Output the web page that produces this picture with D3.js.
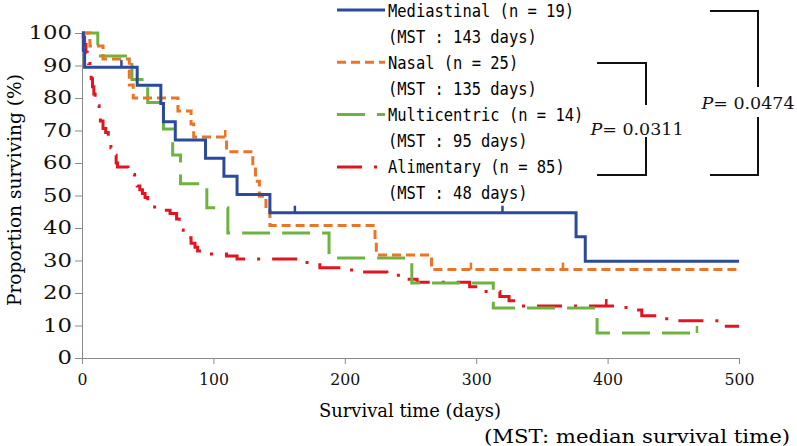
<!DOCTYPE html>
<html>
<head>
<meta charset="utf-8">
<script src="https://cdn.jsdelivr.net/npm/d3@7"></script>
<style>
  body { margin: 0; background: #fff; }
  svg { display: block; }
</style>
</head>
<body>
<div id="chart"></div>
<script>
// tick labels
var xTicks = [0, 100, 200, 300, 400, 500];
var yTicks = [0, 10, 20, 30, 40, 50, 60, 70, 80, 90, 100];

// categories
var groups = ["Mediastinal", "Nasal", "Multicentric", "Alimentary"];
var groupN = [19, 25, 14, 85];
var groupMST = [143, 135, 95, 48];

// series values (day, % surviving)
var mediastinalDays = [0, 1, 2, 42, 60, 62, 71, 94, 108, 118, 143, 376, 383, 500];
var mediastinalSurv = [100, 94.7, 89.5, 83.9, 78.3, 72.7, 67.1, 61.5, 55.9, 50.3, 44.7, 37.3, 29.8, 29.8];
var mediastinalCensor = [30, 162, 320];

var nasalDays = [0, 6, 16, 36, 39, 73, 83, 85, 110, 130, 132, 135, 140, 143, 223, 224, 266, 500];
var nasalSurv = [100, 96, 92, 84, 80, 76, 72, 68, 63.5, 58.9, 54.4, 49.8, 45.3, 40.8, 36.2, 31.7, 27.2, 27.2];
var nasalCensor = [109, 296, 366];

var multicentricDays = [0, 12, 38, 50, 62, 69, 75, 95, 111, 188, 251, 313, 392, 468];
var multicentricSurv = [100, 92.9, 85.7, 78.6, 70.5, 62.5, 53.6, 46.2, 38.5, 30.8, 23.1, 15.4, 7.7, 7.7];
var multicentricCensor = [468];

var alimentaryDays = [0, 1, 2, 3, 4, 5, 6, 7, 8, 9, 10, 11, 13, 14, 16, 18, 20, 22, 24, 26, 27, 35, 37, 40, 42, 44, 46, 48, 50, 52,
  63, 67, 72, 74, 75, 77, 80, 83, 86, 88, 95, 110, 118, 165, 181, 199, 207, 232, 242, 255, 295, 305, 318, 325, 336, 414, 426, 445, 487, 500];
var alimentarySurv = [100, 98.8, 96.5, 94.1, 92.9, 90.6, 88.2, 85.9, 83.5, 81.2, 78.8, 77.6, 75.3, 72.9, 70.6, 69.4, 67.1, 64.7, 62.4, 60.0, 58.8, 57.6, 56.5, 54.1, 52.9, 51.8, 50.6, 49.4, 48.2, 46.5,
  45.5, 44.5, 42.8, 41.2, 39.4, 38.2, 37.0, 35.3, 34.1, 32.9, 32.0, 31.4, 30.5, 29.4, 27.8, 27.1, 26.5, 25.5, 24.2, 23.3, 21.9, 20.5, 18.9, 17.6, 16.0, 14.8, 13.0, 11.5, 9.8, 9.8];
var alimentaryCensor = [399];

var pLabels = ["0.0311", "0.0474"];

var seriesDays = [mediastinalDays, nasalDays, multicentricDays, alimentaryDays];
var seriesSurv = [mediastinalSurv, nasalSurv, multicentricSurv, alimentarySurv];
var seriesCensor = [mediastinalCensor, nasalCensor, multicentricCensor, alimentaryCensor];

var colours = ["#2c4a9c", "#ec7427", "#6db33f", "#e3141f"];
var dashes = [null, "9,5", "28,12", "25,12,3,12"];

var width = 797, height = 446;
var svg = d3.select("#chart").append("svg")
    .attr("width", width)
    .attr("height", height);

//Scales
var x = d3.scaleLinear().domain([0, 500]).range([82, 739]);
var y = d3.scaleLinear().domain([0, 100]).range([358, 33]);

var serif = "'DejaVu Serif', serif";

//Create the y axis
var yAxis = svg.append("g")
    .attr("transform", "translate(" + x(0) + ",0)")
    .call(d3.axisLeft(y).tickValues(yTicks).tickSize(7).tickSizeOuter(0).tickPadding(3));
yAxis.selectAll("path, line").attr("stroke", "#8a8a8a");
yAxis.selectAll("text")
    .style("font-family", serif)
    .style("font-size", "18px")
    .attr("fill", "#111")
    .attr("textLength", function(d) { return String(d).length * 14.5; })
    .attr("lengthAdjust", "spacingAndGlyphs");

//Create the x axis
var xAxis = svg.append("g")
    .attr("transform", "translate(0," + y(0) + ")")
    .call(d3.axisBottom(x).tickValues(xTicks).tickSize(6).tickSizeOuter(0).tickPadding(9));
xAxis.selectAll("path, line").attr("stroke", "#8a8a8a");
xAxis.selectAll("text")
    .style("font-family", serif)
    .style("font-size", "17px")
    .attr("fill", "#111")
    .attr("textLength", function(d) { return String(d).length * 10; })
    .attr("lengthAdjust", "spacingAndGlyphs");

//Axis titles
svg.append("text")
    .attr("transform", "translate(14," + 190 + ") rotate(-90)")
    .attr("text-anchor", "middle")
    .attr("dominant-baseline", "central")
    .style("font-family", serif)
    .style("font-size", "19px")
    .attr("textLength", 232)
    .attr("lengthAdjust", "spacingAndGlyphs")
    .text("Proportion surviving (%)");

svg.append("text")
    .attr("x", 410)
    .attr("y", 410)
    .attr("text-anchor", "middle")
    .attr("dominant-baseline", "central")
    .style("font-family", serif)
    .style("font-size", "19px")
    .attr("textLength", 182)
    .attr("lengthAdjust", "spacingAndGlyphs")
    .text("Survival time (days)");

svg.append("text")
    .attr("x", 790)
    .attr("y", 436)
    .attr("text-anchor", "end")
    .attr("dominant-baseline", "central")
    .style("font-family", serif)
    .style("font-size", "19px")
    .attr("textLength", 306)
    .attr("lengthAdjust", "spacingAndGlyphs")
    .text("(MST: median survival time)");

//Survival curves
var line = d3.line()
    .x(function(d) { return x(d[0]); })
    .y(function(d) { return y(d[1]); })
    .curve(d3.curveStepAfter);

function survAt(days, surv, t) {
    var i = d3.bisectRight(days, t) - 1;
    return surv[Math.max(0, i)];
}

// draw back to front: alimentary first so mediastinal sits on top
[3, 2, 1, 0].forEach(function(k) {
    var pts = d3.zip(seriesDays[k], seriesSurv[k]);
    svg.append("path")
        .datum(pts)
        .attr("d", line)
        .attr("fill", "none")
        .attr("stroke", colours[k])
        .attr("stroke-width", 3)
        .attr("stroke-dasharray", dashes[k]);

    svg.selectAll(".censor" + k)
        .data(seriesCensor[k])
        .enter()
        .append("line")
        .attr("x1", function(d) { return x(d); })
        .attr("x2", function(d) { return x(d); })
        .attr("y1", function(d) { return y(survAt(seriesDays[k], seriesSurv[k], d)); })
        .attr("y2", function(d) { return y(survAt(seriesDays[k], seriesSurv[k], d)) - 7; })
        .attr("stroke", colours[k])
        .attr("stroke-width", 2.5);
});

//Legend
var mono = "'DejaVu Sans Mono', monospace";
var legend = svg.append("g");
groups.forEach(function(g, i) {
    var cy = 10 + i * 52.3;
    legend.append("line")
        .attr("x1", 337).attr("x2", 385)
        .attr("y1", cy).attr("y2", cy)
        .attr("stroke", colours[i])
        .attr("stroke-width", 3)
        .attr("stroke-dasharray", dashes[i]);
    var t1 = g + " (n = " + groupN[i] + ")";
    var t2 = "(MST : " + groupMST[i] + " days)";
    legend.append("text")
        .attr("x", 388).attr("y", cy)
        .attr("dominant-baseline", "central")
        .style("font-family", mono)
        .style("font-size", "18px")
        .attr("textLength", t1.length * 9.3)
        .attr("lengthAdjust", "spacingAndGlyphs")
        .text(t1);
    legend.append("text")
        .attr("x", 388).attr("y", cy + 26)
        .attr("dominant-baseline", "central")
        .style("font-family", mono)
        .style("font-size", "18px")
        .attr("textLength", t2.length * 9.3)
        .attr("lengthAdjust", "spacingAndGlyphs")
        .text(t2);
});

//P value brackets
var brackets = [
    {x0: 597, x1: 646, top: 63, bottom: 175, gapTop: 105, gapBottom: 137, tx: 637, ty: 129},
    {x0: 710, x1: 758, top: 11, bottom: 175, gapTop: 87, gapBottom: 117, tx: 748, ty: 103}
];
brackets.forEach(function(b, i) {
    svg.append("path")
        .attr("d", "M" + b.x0 + "," + b.top + "H" + b.x1 + "V" + b.gapTop +
                   "M" + b.x1 + "," + b.gapBottom + "V" + b.bottom + "H" + b.x0)
        .attr("fill", "none")
        .attr("stroke", "#111")
        .attr("stroke-width", 2);
    var t = svg.append("text")
        .attr("x", b.tx).attr("y", b.ty)
        .attr("text-anchor", "middle")
        .attr("dominant-baseline", "central")
        .style("font-family", serif)
        .style("font-size", "17.5px")
        .attr("fill", "#111");
    t.append("tspan").style("font-style", "italic").text("P");
    t.append("tspan").text("= " + pLabels[i]);
});
</script>
</body>
</html>
